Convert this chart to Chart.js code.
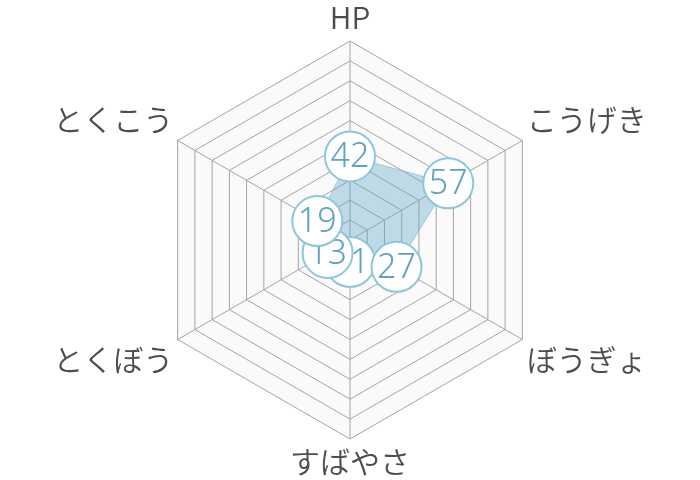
<!DOCTYPE html>
<html lang="ja">
<head>
    <meta charset="UTF-8">
    <title>ステータス</title>
    <script src="https://cdn.jsdelivr.net/npm/chart.js"></script>
    <style>
        html, body { margin: 0; padding: 0; background: #fff; }
        #wrap { width: 700px; height: 480px; }
    </style>
</head>
<body>
    <div id="wrap"><canvas id="statChart"></canvas></div>
    <script>
        const statLabels = ["HP", "こうげき", "ぼうぎょ", "すばやさ", "とくぼう", "とくこう"];
        const statValues = [42, 57, 27, 11, 13, 19];
        const scaleMin = 0;
        const scaleMax = 100;
        const scaleStep = 10;

        // white bubbles with the value, smaller ones drawn first
        const bubbleLabels = {
            id: "bubbleLabels",
            afterDatasetsDraw(chart) {
                const meta = chart.getDatasetMeta(0);
                const ctx = chart.ctx;
                const order = statValues.map((v, i) => i).sort((a, b) => statValues[a] - statValues[b]);
                ctx.save();
                order.forEach(i => {
                    const pt = meta.data[i];
                    ctx.beginPath();
                    ctx.arc(pt.x, pt.y, 25, 0, Math.PI * 2);
                    ctx.fillStyle = "#fff";
                    ctx.fill();
                    ctx.lineWidth = 2;
                    ctx.strokeStyle = "#8ec6db";
                    ctx.stroke();
                    ctx.fillStyle = "#5fa2c2";
                    ctx.font = "300 34px 'Noto Sans', 'Open Sans', sans-serif";
                    ctx.textAlign = "center";
                    ctx.textBaseline = "middle";
                    ctx.fillText(String(statValues[i]), pt.x, pt.y + 1);
                });
                ctx.restore();
            }
        };

        new Chart(document.getElementById("statChart"), {
            type: "radar",
            data: {
                labels: statLabels,
                datasets: [{
                    data: statValues,
                    backgroundColor: "rgba(100, 170, 200, 0.4)",
                    borderColor: "rgba(100, 170, 200, 0.5)",
                    borderWidth: 1,
                    pointRadius: 0,
                    pointHoverRadius: 0
                }]
            },
            options: {
                responsive: true,
                maintainAspectRatio: false,
                animation: false,
                plugins: {
                    legend: { display: false },
                    tooltip: { enabled: false }
                },
                scales: {
                    r: {
                        min: scaleMin,
                        max: scaleMax,
                        backgroundColor: "#fafafa",
                        ticks: { display: false, stepSize: scaleStep },
                        grid: { color: "#a4a4a4", lineWidth: 1 },
                        angleLines: { color: "#a4a4a4", lineWidth: 1 },
                        pointLabels: {
                            color: "#4d4d4d",
                            padding: 5,
                            font: { size: 30, weight: 350, family: "'Noto Sans CJK JP', 'Noto Sans', sans-serif" }
                        }
                    }
                }
            },
            plugins: [bubbleLabels]
        });
    </script>
</body>
</html>
